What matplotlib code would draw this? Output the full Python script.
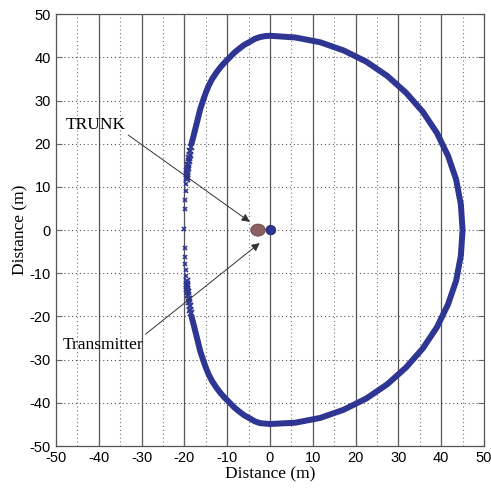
import matplotlib
matplotlib.use("Agg")
import matplotlib.pyplot as plt
from matplotlib.patches import Ellipse

plt.rcParams['axes.unicode_minus'] = False

# Coverage contour, dense band part: upper-left -> right -> lower-left
band_x = [-18.3, -17.8, -17.3, -16.8, -16.3, -15.6, -15.0, -14.3,
          -13.5, -12.5, -11.5, -10.4, -9.3, -8.3, -7.2, -6.0, -4.7, -3.5, -2.3, -1.2,
          0.0, 5.9, 11.7, 17.2, 22.5, 27.4, 31.8, 35.7, 39.0, 41.6, 43.5, 44.6, 45.0,
          44.6, 43.5, 41.6, 39.0, 35.7, 31.8, 27.4, 22.5, 17.2, 11.7, 5.9, 0.0,
          -1.2, -2.3, -3.5, -4.7, -6.0, -7.2, -8.3, -9.7, -10.6, -11.5, -12.5, -13.5,
          -14.3, -15.0, -15.6, -16.3, -16.8, -17.3, -17.8, -18.3]
band_y = [20.1, 22.0, 24.0, 26.0, 28.0, 30.1, 31.8, 33.5,
          35.0, 36.5, 37.8, 39.0, 40.1, 41.1, 42.0, 42.9, 43.6, 44.3, 44.7, 44.9,
          45.0, 44.6, 43.5, 41.6, 39.0, 35.7, 31.8, 27.4, 22.5, 17.2, 11.7, 5.9, 0.0,
          -5.9, -11.7, -17.2, -22.5, -27.4, -31.8, -35.7, -39.0, -41.6, -43.5, -44.6, -44.9,
          -44.8, -44.7, -44.3, -43.6, -42.9, -42.0, -41.1, -39.7, -38.8, -37.8, -36.5, -35.0,
          -33.5, -31.8, -30.1, -28.0, -26.0, -24.0, -22.0, -20.1]

# Tapering marker runs near x = -19
taper_x = [-18.4, -18.6, -18.8, -18.9, -19.0, -19.1, -19.2, -19.3, -19.4, -19.5, -19.5,
           -18.4, -18.6, -18.8, -18.9, -19.0, -19.1, -19.2, -19.3, -19.4, -19.5, -19.5]
taper_y = [19.3, 18.4, 17.5, 16.7, 15.9, 15.1, 14.4, 13.7, 13.0, 12.4, 11.8,
           -19.3, -18.4, -17.5, -16.7, -15.9, -15.1, -14.4, -13.7, -13.0, -12.4, -11.8]

# Sparse markers near x = -20
sparse_x = [-19.7, -19.8, -19.9, -20.0, -19.9, -19.9, -19.8, -19.7, -19.6]
sparse_y = [10.6, 9.0, 7.0, 4.9, 0.2, -4.2, -6.3, -7.8, -9.2, -10.6]
sparse_x = [-19.6] + sparse_x

# Objects
trunk_xy = (-2.8, 0.0)
tx_xy = (0.2, 0.0)

xticks = [-50, -40, -30, -20, -10, 0, 10, 20, 30, 40, 50]
yticks = [-50, -40, -30, -20, -10, 0, 10, 20, 30, 40, 50]
minor_x = [-45, -35, -25, -15, -5, 5, 15, 25, 35, 45]

blue = '#2E3592'

fig = plt.figure(figsize=(4.91, 4.88), dpi=100)
ax = fig.add_axes([0.114, 0.086, 0.8717, 0.885])
ax.set_xlim(-50, 50)
ax.set_ylim(-50, 50)

# grid
for v in xticks[1:-1]:
    ax.axvline(v, color='#555555', lw=0.9, zorder=1)
for v in minor_x:
    ax.axvline(v, color='#777777', lw=0.8, ls=(0, (1, 2.5)), zorder=1)
for v in yticks[1:-1]:
    ax.axhline(v, color='#555555', lw=0.8, ls=(0, (1, 2.5)), zorder=1)

ax.plot(band_x, band_y, color=blue, lw=4.3, solid_capstyle='round',
        solid_joinstyle='round', zorder=3)
ax.plot(taper_x, taper_y, ls='none', marker='x', ms=4.2, mew=1.4, color=blue, zorder=3)
ax.plot(sparse_x, sparse_y, ls='none', marker='x', ms=3.5, mew=1.2, color=blue, zorder=3)

ax.add_patch(Ellipse(trunk_xy, 3.4, 2.8, facecolor='#8C5F60', edgecolor='#5a3a3a', lw=0.5, zorder=4))
ax.add_patch(Ellipse(tx_xy, 2.3, 2.2, facecolor='#2E3592', edgecolor='#1a1f60', lw=0.5, zorder=5))

serif = 'Liberation Serif'
ax.annotate('TRUNK', xy=(-4.7, 1.9), xytext=(-47.8, 24.3), fontsize=12.5, family=serif,
            ha='left', va='center',
            arrowprops=dict(arrowstyle='-|>', color='#333333', lw=0.7, mutation_scale=12,
                            shrinkA=0, shrinkB=0, relpos=(1.0, 0.0)), zorder=6)
ax.annotate('Transmitter', xy=(-2.4, -3.0), xytext=(-48.4, -26.6), fontsize=12.5, family=serif,
            ha='left', va='center',
            arrowprops=dict(arrowstyle='-|>', color='#333333', lw=0.7, mutation_scale=12,
                            shrinkA=0, shrinkB=0, relpos=(0.97, 0.95)), zorder=6)

ax.set_xticks(xticks)
ax.set_yticks(yticks)
ax.tick_params(direction='in', length=4, top=True, right=True, color='#666666',
               labelsize=10.5)
for lab in ax.get_xticklabels() + ax.get_yticklabels():
    lab.set_family('Liberation Sans')
for s in ax.spines.values():
    s.set_color('#555555')
    s.set_linewidth(0.9)

ax.set_xlabel('Distance (m)', family=serif, fontsize=12.5, labelpad=1)
ax.set_ylabel('Distance (m)', family=serif, fontsize=12.5, labelpad=1)

fig.savefig('out.png', dpi=100)
